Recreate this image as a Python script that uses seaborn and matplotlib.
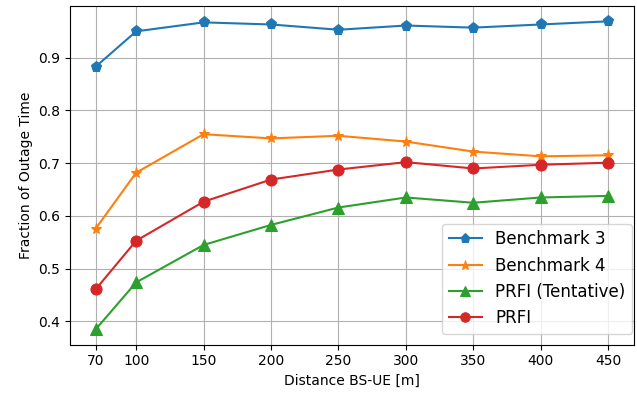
import matplotlib
matplotlib.use("Agg")
import matplotlib.pyplot as plt
import seaborn as sns
import pandas as pd

distance = [70, 100, 150, 200, 250, 300, 350, 400, 450]
benchmark3 = [0.883, 0.950, 0.967, 0.963, 0.953, 0.961, 0.957, 0.963, 0.969]
benchmark4 = [0.576, 0.682, 0.755, 0.747, 0.752, 0.741, 0.722, 0.713, 0.715]
prfi_tent = [0.385, 0.474, 0.545, 0.583, 0.616, 0.635, 0.625, 0.635, 0.638]
prfi = [0.461, 0.553, 0.627, 0.669, 0.688, 0.702, 0.690, 0.697, 0.701]

series_names = ["Benchmark 3", "Benchmark 4", "PRFI (Tentative)", "PRFI"]
series_vals = [benchmark3, benchmark4, prfi_tent, prfi]
markers = ["p", "*", "^", "o"]
colors = ["#1f77b4", "#ff7f0e", "#2ca02c", "#d62728"]
sizes = [8, 8, 8, 8]

plt.rcParams['font.family'] = ['DejaVu Sans']
fig, ax = plt.subplots(figsize=(6.37, 3.94), dpi=100)

for name, vals, m, c, s in zip(series_names, series_vals, markers, colors, sizes):
    df = pd.DataFrame({"x": distance, "y": vals})
    sns.lineplot(data=df, x="x", y="y", ax=ax, marker=m, color=c, label=name,
                 markersize=s, markeredgecolor=c, linewidth=1.5)

ax.set_xticks(distance)
ax.set_xlabel("Distance BS-UE [m]")
ax.set_ylabel("Fraction of Outage Time")
ax.grid(True, color="#b0b0b0", linewidth=0.8)
ax.set_axisbelow(True)
ax.legend(loc="lower right", fontsize=12, framealpha=0.8, markerscale=0.85,
          borderaxespad=0, bbox_to_anchor=(0.997, 0.032))
fig.subplots_adjust(left=0.11, right=0.995, top=0.985, bottom=0.125)
fig.savefig("out.png", dpi=100)
